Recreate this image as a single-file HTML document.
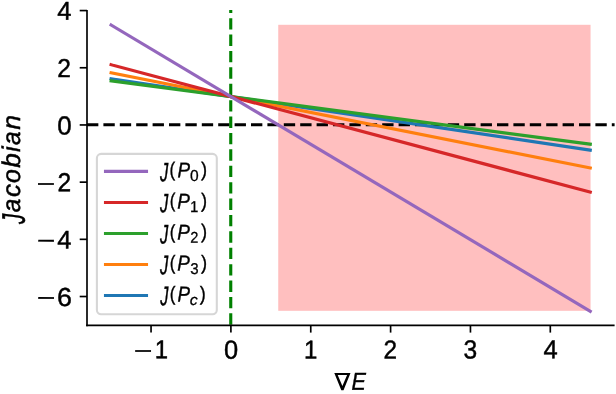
<!DOCTYPE html>
<html><head><meta charset="utf-8"><title>Jacobian plot</title>
<style>html,body{margin:0;padding:0;background:#fff;}svg{display:block;will-change:transform;}text{font-family:"Liberation Sans",sans-serif;fill:#000;stroke:#000;stroke-width:0.45px;}</style></head><body>
<svg width="616" height="394" viewBox="0 0 616 394">
<rect x="0" y="0" width="616" height="394" fill="#ffffff"/>
<rect x="278.25" y="24.8" width="312.3" height="286.0" fill="#ffbfbf"/>
<line x1="87.0" y1="124.8" x2="614.6" y2="124.8" stroke="#000" stroke-width="3.1" stroke-dasharray="11.35 5.05"/>
<line x1="230.75" y1="324.7" x2="230.75" y2="10.1" stroke="#008000" stroke-width="3.1" stroke-dasharray="11.35 5.05"/>
<line x1="111.13" y1="78.74" x2="590.23" y2="150.06" stroke="#1f77b4" stroke-width="3.2" stroke-linecap="square"/>
<line x1="111.13" y1="72.79" x2="590.23" y2="167.98" stroke="#ff7f0e" stroke-width="3.2" stroke-linecap="square"/>
<line x1="111.13" y1="80.78" x2="590.23" y2="144.15" stroke="#2ca02c" stroke-width="3.2" stroke-linecap="square"/>
<line x1="111.13" y1="64.71" x2="590.23" y2="192.11" stroke="#d62728" stroke-width="3.2" stroke-linecap="square"/>
<line x1="111.13" y1="25.00" x2="590.23" y2="311.20" stroke="#9467bd" stroke-width="3.2" stroke-linecap="square"/>
<rect x="96.9" y="153.9" width="119.90" height="160.40" rx="4.2" ry="4.2" fill="#ffffff" fill-opacity="0.8" stroke="#cccccc" stroke-opacity="0.8" stroke-width="2.08"/>
<line x1="105.5" y1="171.40" x2="146.5" y2="171.40" stroke="#9467bd" stroke-width="3.1" stroke-linecap="square"/>
<text transform="translate(160.04,181.29) rotate(0.25) scale(0.6543,1.0688)" font-size="25" font-style="italic" stroke-width="0.522">J</text>
<text transform="translate(169.61,176.29) rotate(0.25) scale(0.6772,0.8058)" font-size="25" stroke-width="1.011">(</text>
<text transform="translate(177.44,177.36) rotate(0.25) scale(0.7505,0.8501)" font-size="25" font-style="italic" stroke-width="0.750">P</text>
<text transform="translate(190.05,180.92) rotate(0.25) scale(0.6211,0.6320)" font-size="25" stroke-width="0.718">0</text>
<text transform="translate(200.93,176.26) rotate(0.25) scale(0.7269,0.8072)" font-size="25" stroke-width="0.978">)</text>
<line x1="105.5" y1="202.43" x2="146.5" y2="202.43" stroke="#d62728" stroke-width="3.1" stroke-linecap="square"/>
<text transform="translate(160.02,212.28) rotate(0.25) scale(0.6543,1.0622)" font-size="25" font-style="italic" stroke-width="0.524">J</text>
<text transform="translate(169.86,207.34) rotate(0.25) scale(0.6704,0.8017)" font-size="25" stroke-width="1.019">(</text>
<text transform="translate(177.25,208.44) rotate(0.25) scale(0.7544,0.8549)" font-size="25" font-style="italic" stroke-width="0.746">P</text>
<text transform="translate(189.91,212.01) rotate(0.25) scale(0.6036,0.6257)" font-size="25" stroke-width="0.732">1</text>
<text transform="translate(200.92,207.42) rotate(0.25) scale(0.7287,0.8091)" font-size="25" stroke-width="0.975">)</text>
<line x1="105.5" y1="233.46" x2="146.5" y2="233.46" stroke="#2ca02c" stroke-width="3.1" stroke-linecap="square"/>
<text transform="translate(160.01,243.42) rotate(0.25) scale(0.6526,1.0755)" font-size="25" font-style="italic" stroke-width="0.521">J</text>
<text transform="translate(169.85,238.48) rotate(0.25) scale(0.6683,0.7937)" font-size="25" stroke-width="1.026">(</text>
<text transform="translate(177.26,239.52) rotate(0.25) scale(0.7551,0.8550)" font-size="25" font-style="italic" stroke-width="0.745">P</text>
<text transform="translate(190.14,242.85) rotate(0.25) scale(0.5805,0.6303)" font-size="25" stroke-width="0.743">2</text>
<text transform="translate(200.93,238.36) rotate(0.25) scale(0.7276,0.8039)" font-size="25" stroke-width="0.979">)</text>
<line x1="105.5" y1="264.49" x2="146.5" y2="264.49" stroke="#ff7f0e" stroke-width="3.1" stroke-linecap="square"/>
<text transform="translate(160.00,274.35) rotate(0.25) scale(0.6528,1.0747)" font-size="25" font-style="italic" stroke-width="0.521">J</text>
<text transform="translate(169.84,269.47) rotate(0.25) scale(0.6715,0.8014)" font-size="25" stroke-width="1.018">(</text>
<text transform="translate(177.30,270.61) rotate(0.25) scale(0.7521,0.8607)" font-size="25" font-style="italic" stroke-width="0.744">P</text>
<text transform="translate(190.20,273.90) rotate(0.25) scale(0.5993,0.6290)" font-size="25" stroke-width="0.733">3</text>
<text transform="translate(200.93,269.43) rotate(0.25) scale(0.7287,0.8002)" font-size="25" stroke-width="0.981">)</text>
<line x1="105.5" y1="295.52" x2="146.5" y2="295.52" stroke="#1f77b4" stroke-width="3.1" stroke-linecap="square"/>
<text transform="translate(160.13,305.37) rotate(0.25) scale(0.6467,1.0810)" font-size="25" font-style="italic" stroke-width="0.521">J</text>
<text transform="translate(169.86,300.44) rotate(0.25) scale(0.6787,0.8015)" font-size="25" stroke-width="1.013">(</text>
<text transform="translate(177.42,301.60) rotate(0.25) scale(0.7474,0.8680)" font-size="25" font-style="italic" stroke-width="0.743">P</text>
<text transform="translate(189.76,305.00) rotate(0.25) scale(0.6384,0.6087)" font-size="25" font-style="italic" stroke-width="0.962">c</text>
<text transform="translate(199.65,300.50) rotate(0.25) scale(0.7174,0.8017)" font-size="25" stroke-width="0.987">)</text>
<line x1="87.0" y1="10.1" x2="87.0" y2="326.13" stroke="#000" stroke-width="1.67"/>
<line x1="86.17" y1="325.3" x2="614.6" y2="325.3" stroke="#000" stroke-width="1.67"/>
<line x1="151.05" y1="325.3" x2="151.05" y2="332.60" stroke="#000" stroke-width="1.67"/>
<line x1="230.90" y1="325.3" x2="230.90" y2="332.60" stroke="#000" stroke-width="1.67"/>
<line x1="310.75" y1="325.3" x2="310.75" y2="332.60" stroke="#000" stroke-width="1.67"/>
<line x1="390.60" y1="325.3" x2="390.60" y2="332.60" stroke="#000" stroke-width="1.67"/>
<line x1="470.45" y1="325.3" x2="470.45" y2="332.60" stroke="#000" stroke-width="1.67"/>
<line x1="550.30" y1="325.3" x2="550.30" y2="332.60" stroke="#000" stroke-width="1.67"/>
<line x1="87.0" y1="10.57" x2="79.70" y2="10.57" stroke="#000" stroke-width="1.67"/>
<line x1="87.0" y1="67.76" x2="79.70" y2="67.76" stroke="#000" stroke-width="1.67"/>
<line x1="87.0" y1="124.95" x2="79.70" y2="124.95" stroke="#000" stroke-width="1.67"/>
<line x1="87.0" y1="182.14" x2="79.70" y2="182.14" stroke="#000" stroke-width="1.67"/>
<line x1="87.0" y1="239.33" x2="79.70" y2="239.33" stroke="#000" stroke-width="1.67"/>
<line x1="87.0" y1="296.52" x2="79.70" y2="296.52" stroke="#000" stroke-width="1.67"/>
<text transform="translate(134.12,358.32) rotate(0.25) scale(1.2507,0.8805)" font-size="25" stroke-width="0.422">−</text>
<text transform="translate(154.71,358.36) rotate(0.25) scale(0.9568,1.0364)" font-size="25" stroke-width="0.452">1</text>
<text transform="translate(223.96,358.75) rotate(0.25) scale(1.0124,1.0528)" font-size="25" stroke-width="0.436">0</text>
<text transform="translate(303.90,358.38) rotate(0.25) scale(0.9595,1.0355)" font-size="25" stroke-width="0.451">1</text>
<text transform="translate(383.61,358.40) rotate(0.25) scale(0.9713,1.0394)" font-size="25" stroke-width="0.448">2</text>
<text transform="translate(463.53,358.53) rotate(0.25) scale(0.9803,1.0532)" font-size="25" stroke-width="0.443">3</text>
<text transform="translate(543.39,358.36) rotate(0.25) scale(1.0195,1.0374)" font-size="25" stroke-width="0.438">4</text>
<text transform="translate(57.27,19.69) rotate(0.25) scale(1.0181,1.0333)" font-size="25" stroke-width="0.439">4</text>
<text transform="translate(57.37,77.08) rotate(0.25) scale(0.9787,1.0334)" font-size="25" stroke-width="0.447">2</text>
<text transform="translate(57.13,134.40) rotate(0.25) scale(1.0345,1.0417)" font-size="25" stroke-width="0.433">0</text>
<text transform="translate(36.87,191.21) rotate(0.25) scale(1.2520,0.8827)" font-size="25" stroke-width="0.422">−</text>
<text transform="translate(57.38,191.20) rotate(0.25) scale(0.9803,1.0429)" font-size="25" stroke-width="0.445">2</text>
<text transform="translate(36.92,248.27) rotate(0.25) scale(1.2465,0.8967)" font-size="25" stroke-width="0.420">−</text>
<text transform="translate(57.27,248.62) rotate(0.25) scale(1.0185,1.0269)" font-size="25" stroke-width="0.440">4</text>
<text transform="translate(36.91,305.52) rotate(0.25) scale(1.2467,0.9113)" font-size="25" stroke-width="0.417">−</text>
<text transform="translate(57.06,305.93) rotate(0.25) scale(1.0725,1.0447)" font-size="25" stroke-width="0.425">6</text>
<path d="M334.3 372.9 L350.5 372.9 L343.5 390.3 L341.3 390.3 Z M337.7 375.1 L342.4 386.0 L347.1 375.1 Z" fill="#000" fill-rule="evenodd"/>
<text transform="translate(351.38,389.72) rotate(0.25) scale(0.8602,0.9808)" font-size="25" font-style="italic" stroke-width="0.869">E</text>
<g transform="translate(20.2,220.2) rotate(-90)">
<text transform="translate(-3.81,4.53) rotate(0.25) scale(0.8114,1.3040)" font-size="25" font-style="italic" stroke-width="0.567">J</text>
<text transform="translate(8.03,-0.18) rotate(0.25) scale(0.9745,1.0203)" font-size="25" font-style="italic" stroke-width="0.602">a</text>
<text transform="translate(23.15,-0.17) rotate(0.25) scale(1.0348,1.0232)" font-size="25" font-style="italic" stroke-width="0.583">c</text>
<text transform="translate(37.13,-0.19) rotate(0.25) scale(0.9949,1.0222)" font-size="25" font-style="italic" stroke-width="0.595">o</text>
<text transform="translate(52.54,-0.32) rotate(0.25) scale(1.0428,1.0258)" font-size="25" font-style="italic" stroke-width="0.580">b</text>
<text transform="translate(68.13,-0.16) rotate(0.25) scale(0.9904,1.0248)" font-size="25" font-style="italic" stroke-width="0.595">i</text>
<text transform="translate(75.27,-0.27) rotate(0.25) scale(0.9764,1.0188)" font-size="25" font-style="italic" stroke-width="0.601">a</text>
<text transform="translate(90.44,-0.17) rotate(0.25) scale(1.0556,1.0201)" font-size="25" font-style="italic" stroke-width="0.578">n</text>
</g>
</svg></body></html>
